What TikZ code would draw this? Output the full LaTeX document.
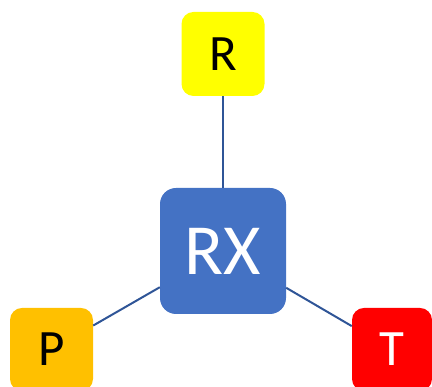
\documentclass[tikz,border=0pt]{standalone}
\usepackage{fontspec}
\setmainfont{Carlito}
\definecolor{rxblue}{HTML}{4472C4}
\definecolor{linkblue}{HTML}{2F5597}
\definecolor{porange}{HTML}{FFC000}
\definecolor{tred}{HTML}{FF0000}
\definecolor{ryellow}{HTML}{FFFF00}
\begin{document}
\begin{tikzpicture}[x=1pt,y=1pt,
  box/.style={inner sep=0pt, rounded corners=12pt, minimum width=83pt, minimum height=83pt, font=\fontsize{51}{61}\selectfont},
  link/.style={draw=linkblue, line width=2pt}]
\useasboundingbox (0,0) rectangle (432,387);
\node[box, fill=ryellow, text=black, minimum height=84pt] (r) at (223,333) {R};
\node[box, fill=rxblue, text=white, minimum width=126pt, minimum height=126pt, rounded corners=16pt, font=\fontsize{72}{86}\selectfont] (rx) at (223,136) {RX};
\node[box, fill=porange, text=black] (p) at (51.5,37.5) {P};
\node[box, fill=tred, text=white, minimum width=80pt] (t) at (392,37.5) {T};
\draw[link] (r) -- (rx);
\draw[link] (rx) -- (p);
\draw[link] (rx) -- (t);
\end{tikzpicture}
\end{document}
